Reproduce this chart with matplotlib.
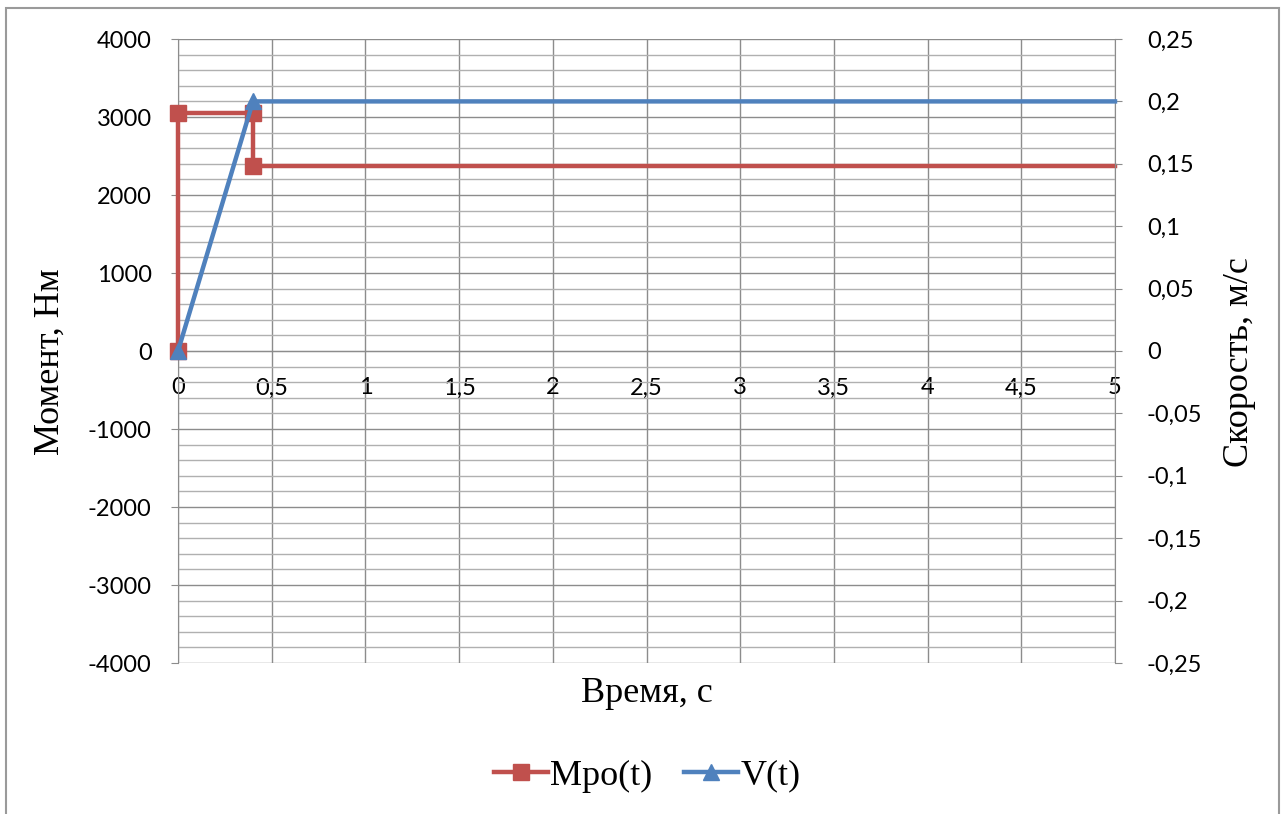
import matplotlib.pyplot as plt
from matplotlib.ticker import MultipleLocator, FuncFormatter
from matplotlib.patches import Rectangle
from matplotlib.font_manager import FontProperties

# moment Mpo(t), N*m
t_m = [0, 0, 0.4, 0.4, 5]
m_vals = [0, 3050, 3050, 2370, 2370]
# speed V(t), m/s
t_v = [0, 0.4, 5]
v_vals = [0, 0.2, 0.2]

red = '#c0504d'
blue = '#4f81bd'
grid_c = '#8c8c8c'

def comma(x, pos):
    s = ('%g' % round(x, 4)).replace('.', ',')
    return '0' if s in ('-0', '0') else s

W, H = 1285, 814
fig = plt.figure(figsize=(W / 100, H / 100), dpi=100)
ax = fig.add_axes([178 / W, 1 - 663 / H, (1115 - 178) / W, (663 - 39) / H])
ax2 = ax.twinx()

l1, = ax.plot(t_m, m_vals, color=red, lw=3.2, marker='s', ms=11.5, markevery=[0, 1, 2, 3],
              label='Мро(t)', zorder=3, clip_on=False)
l2, = ax2.plot(t_v, v_vals, color=blue, lw=3.2, marker='^', ms=12, markevery=[0, 1],
               label='V(t)', zorder=4, clip_on=False)

ax.set_xlim(0, 5)
ax.set_ylim(-4000, 4000)
ax2.set_ylim(-0.25, 0.25)
ax.xaxis.set_major_locator(MultipleLocator(0.5))
ax.yaxis.set_major_locator(MultipleLocator(1000))
ax.yaxis.set_minor_locator(MultipleLocator(200))
ax2.yaxis.set_major_locator(MultipleLocator(0.05))
for a in (ax, ax2):
    a.xaxis.set_major_formatter(FuncFormatter(comma))
    a.yaxis.set_major_formatter(FuncFormatter(comma))

ax.grid(True, which='major', color=grid_c, lw=1)
ax.grid(True, which='minor', axis='y', color='#b0b0b0', lw=1)
ax.set_axisbelow(True)

for a in (ax, ax2):
    for s in a.spines.values():
        s.set_visible(False)
ax.spines['left'].set_visible(True)
ax.spines['left'].set_color(grid_c)
ax2.spines['right'].set_visible(True)
ax2.spines['right'].set_color(grid_c)
ax.spines['bottom'].set_visible(True)
ax.spines['bottom'].set_position(('data', 0))
ax.spines['bottom'].set_color(grid_c)

tick_font = 'Lato'
ax.tick_params(axis='y', which='major', direction='out', length=5, color=grid_c,
               labelsize=17, pad=14)
ax.tick_params(axis='y', which='minor', length=0)
ax.tick_params(axis='x', direction='out', length=0, labelsize=17, pad=19)
ax2.tick_params(axis='y', direction='out', length=5, color=grid_c, labelsize=17, pad=18)
for lab in ax.get_xticklabels() + ax.get_yticklabels() + ax2.get_yticklabels():
    lab.set_fontfamily(tick_font)

serif = FontProperties(family='Liberation Serif', size=26)
fig.text((178 + 1115) / 2 / W, 1 - 693 / H, 'Время, с', fontproperties=serif,
         ha='center', va='center')
fig.text(50 / W, 1 - 362 / H, 'Момент, Нм', fontproperties=serif,
         ha='center', va='center', rotation=90)
fig.text(1240 / W, 1 - 362 / H, 'Скорость, м/с', fontproperties=serif,
         ha='center', va='center', rotation=90)

fig.legend(handles=[l1, l2], loc='center', bbox_to_anchor=(647 / W, 1 - 776 / H),
           ncol=2, frameon=False, prop=FontProperties(family='Liberation Serif', size=26),
           handlelength=1.5, handletextpad=0.05, columnspacing=0.9)

fig.patches.append(Rectangle((6 / W, -0.01), (1279 - 6) / W, 1 - 8 / H + 0.01,
                             transform=fig.transFigure, fill=False,
                             edgecolor='#9a9a9a', lw=1.5))

fig.savefig('out.png', dpi=100, facecolor='white')
